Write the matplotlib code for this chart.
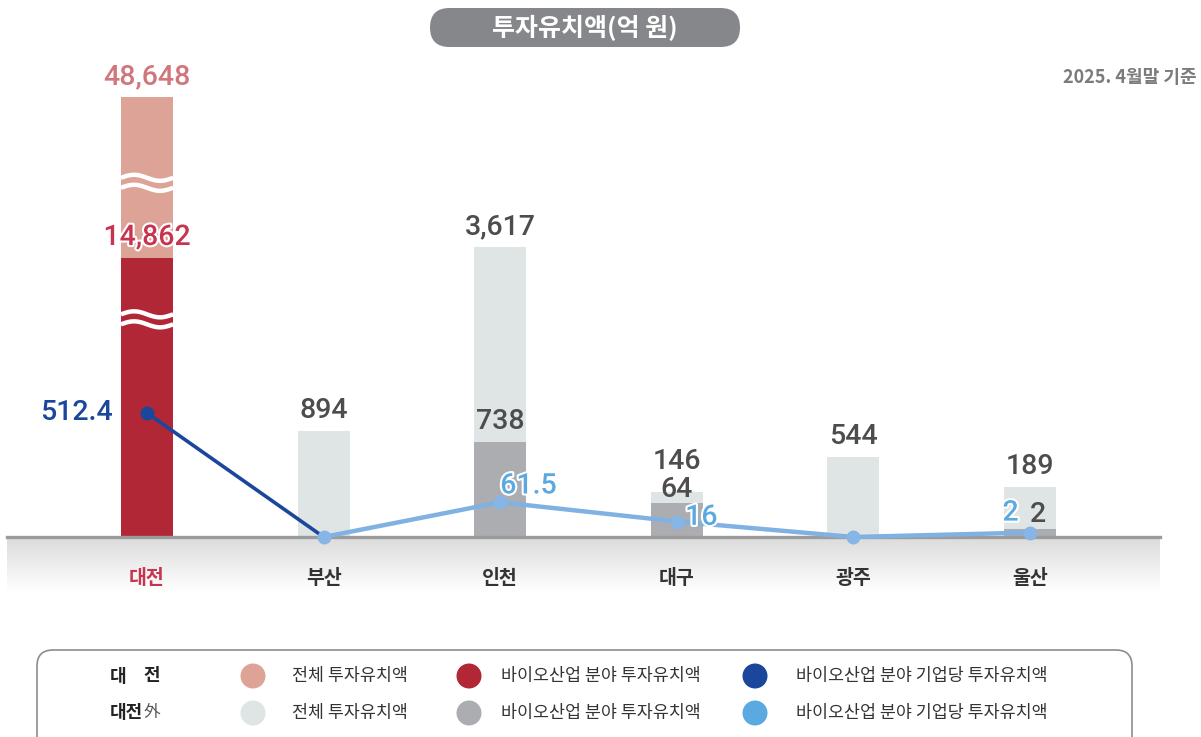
import numpy as np
import matplotlib.pyplot as plt
from matplotlib.patches import FancyBboxPatch, Circle
from matplotlib.colors import LinearSegmentedColormap
from matplotlib.transforms import blended_transform_factory
from matplotlib import patheffects as pe

plt.rcParams['font.family'] = ['Noto Sans CJK KR', 'DejaVu Sans']

# data (억 원)
regions = ['대전', '부산', '인천', '대구', '광주', '울산']
total_inv = [48648, 894, 3617, 146, 544, 189]
bio_inv = [14862, 0, 738, 64, 0, 2]
per_firm = [512.4, 0, 61.5, 16, 0, 2]
legend_texts = ['전체 투자유치액', '바이오산업 분야 투자유치액', '바이오산업 분야 기업당 투자유치액']

# colours
dj_total, dj_bio, dj_line = '#dda397', '#b22735', '#1a479c'
ot_total, ot_bio, ot_line = '#dfe4e4', '#abadb1', '#5aa9e0'
line_col = '#80b1e3'
num_col = '#4d4d4d'
num_font = dict(family=['Roboto', 'DejaVu Sans'], fontweight='medium', fontsize=20.5)

W, H = 1201, 737
fig = plt.figure(figsize=(W / 100, H / 100), dpi=100)

# background layer in pixel coords (title, note, legend)
bg = fig.add_axes([0, 0, 1, 1])
bg.set_xlim(0, W)
bg.set_ylim(H, 0)
bg.axis('off')

bg.add_patch(FancyBboxPatch((430, 8), 310, 39, boxstyle='round,pad=0,rounding_size=19.5',
                            fc='#86878b', ec='none'))
bg.text(585, 28, '투자유치액(억 원)', ha='center', va='center', color='white',
        fontsize=18, fontweight='bold')
bg.text(1197, 77, '2025. 4월말 기준', ha='right', va='center', color='#7b7b7b',
        fontsize=13, fontweight='bold')

bg.add_patch(FancyBboxPatch((37, 650), 1095, 120, boxstyle='round,pad=0,rounding_size=16',
                            fc='white', ec='#8c8c8c', lw=1.2))
rows = [676, 713]
bg.text(110, rows[0], '대', ha='left', va='center', fontsize=13, fontweight='bold', color='#222222')
bg.text(160, rows[0], '전', ha='right', va='center', fontsize=13, fontweight='bold', color='#222222')
t_dj = bg.text(110, rows[1], '대전', ha='left', va='center', fontsize=13, fontweight='bold', color='#222222')
bg.annotate('外', xy=(1, 0.5), xycoords=t_dj, ha='left', va='center', fontsize=12, color='#555555')
for row, cols in zip(rows, [(dj_total, dj_bio, dj_line), (ot_total, ot_bio, ot_line)]):
    for cx, tx, c, t in zip([253, 469, 755], [292, 501, 796], cols, legend_texts):
        bg.add_patch(Circle((cx, row), 12.5, color=c, ec='none'))
        bg.text(tx, row, t, ha='left', va='center', fontsize=12.5, color='#333333')

# grey band under the baseline
ag = fig.add_axes([7 / W, (H - 592) / H, 1153 / W, 54 / H])
grad = np.linspace(0, 1, 100)[:, None]
ag.imshow(grad, aspect='auto', extent=(0, 1, 0, 1),
          cmap=LinearSegmentedColormap.from_list('band', ['#dcdcdc', '#ffffff']))
ag.axis('off')

rect = [7 / W, 200 / H, 1153 / W, 477 / H]
x = np.arange(len(regions))
xlim = (-0.793, 5.736)
bw = 0.295


# compressed scales (values are not drawn proportionally in the original)
def bar_fwd(v):
    v = np.asarray(v, float)
    return 0.0639 * v + 7.194 * np.sign(v) * np.log1p(np.abs(v))


grid = np.concatenate([-np.geomspace(1e7, 1e-6, 3000), [0], np.geomspace(1e-6, 1e7, 3000)])


def bar_inv(y):
    return np.interp(y, bar_fwd(grid), grid)


def power_scale(p):
    def fwd(v):
        v = np.asarray(v, float)
        return np.sign(v) * np.abs(v) ** p

    def inv(y):
        y = np.asarray(y, float)
        return np.sign(y) * np.abs(y) ** (1 / p)
    return fwd, inv


# other regions
ax = fig.add_axes(rect)
ax.set_yscale('function', functions=(bar_fwd, bar_inv))
ax.set_xlim(*xlim)
ax.set_ylim(0, bar_inv(477))
ax.patch.set_visible(False)
for s in ax.spines.values():
    s.set_visible(False)
ax.set_yticks([])
ax.bar(x[1:], total_inv[1:], width=bw, color=ot_total)
ax.bar(x[1:], bio_inv[1:], width=bw, color=ot_bio)
ax.set_xticks(x, regions)
ax.tick_params(axis='x', length=0, pad=23, labelsize=14)
for i, lbl in enumerate(ax.get_xticklabels()):
    lbl.set_fontweight('bold')
    lbl.set_color('#c8344f' if i == 0 else '#333333')

tot_off = [None, 5, 5, 12, 5, 5]
for i in range(1, len(regions)):
    ax.annotate(f'{total_inv[i]:,}', (x[i], total_inv[i]), xytext=(0, tot_off[i]),
                textcoords='offset points', ha='center', va='bottom', color=num_col, **num_font)
bio_off = [None, None, (0, 5), (0, 0), None, (6, 1)]
for i in range(1, len(regions)):
    if bio_inv[i] > 0:
        ax.annotate(f'{bio_inv[i]:,}', (x[i], bio_inv[i]), xytext=bio_off[i],
                    textcoords='offset points', ha='center', va='bottom', color=num_col, **num_font)

# Daejeon (broken bar, own scale)
ax_dj = fig.add_axes(rect, sharex=ax)
dj_fwd, dj_inv = power_scale(0.384)
ax_dj.set_yscale('function', functions=(dj_fwd, dj_inv))
dj_top = total_inv[0] * (477 / 440) ** (1 / 0.384)
ax_dj.set_ylim(0, dj_top)
ax_dj.axis('off')
ax_dj.bar(x[0], total_inv[0], width=bw, color=dj_total)
ax_dj.bar(x[0], bio_inv[0], width=bw, color=dj_bio)
trans = blended_transform_factory(ax_dj.transData, ax_dj.transAxes)
xs = np.linspace(x[0] - bw / 2, x[0] + bw / 2, 80)
for v, frac in [(total_inv[0], 0.805), (bio_inv[0], 0.78)]:
    yc = frac * dj_fwd(v) / dj_fwd(dj_top)
    for d in (-5, 5):
        ys = yc + (d + 3 * np.sin(2 * np.pi * (xs - xs[0]) / bw)) / 477
        ax_dj.plot(xs, ys, color='white', lw=3.2, transform=trans, solid_capstyle='butt')
ax_dj.annotate(f'{total_inv[0]:,}', (x[0], total_inv[0]), xytext=(0, 5), textcoords='offset points',
               ha='center', va='bottom', color='#d0767d', **num_font)
ax_dj.annotate(f'{bio_inv[0]:,}', (x[0], bio_inv[0]), xytext=(0, 5), textcoords='offset points',
               ha='center', va='bottom', color='#c8344f', **num_font,
               path_effects=[pe.withStroke(linewidth=3, foreground='white')])

# per-firm line
ax_ln = fig.add_axes(rect, sharex=ax)
ln_fwd, ln_inv = power_scale(0.6)
ax_ln.set_yscale('function', functions=(ln_fwd, ln_inv))
ax_ln.set_ylim(0, per_firm[0] * (477 / 124) ** (1 / 0.6))
ax_ln.axis('off')
ax_ln.axhline(0, color='#9b9b9b', lw=2.4, zorder=1, clip_on=False)
ax_ln.plot(x[:2], per_firm[:2], color=dj_line, lw=2.6, zorder=3, clip_on=False)
ax_ln.plot(x[1:], per_firm[1:], color=line_col, lw=3.2, marker='o', ms=9,
           mfc='#86b5e6', mec='#86b5e6', zorder=4, clip_on=False)
ax_ln.plot(x[0], per_firm[0], 'o', color=dj_line, ms=9, zorder=5)
ax_ln.annotate(f'{per_firm[0]:g}', (x[0], per_firm[0]), xytext=(-25, 0), textcoords='offset points',
               ha='right', va='center', color=dj_line, **num_font)
ln_off = [None, None, (0, 2, 'left', 'bottom'), (6, 3, 'left', 'center'), None, (-14, 14, 'center', 'center')]
for i in range(1, len(regions)):
    if ln_off[i] is not None:
        dx, dy, ha, va = ln_off[i]
        ax_ln.annotate(f'{per_firm[i]:g}', (x[i], per_firm[i]), xytext=(dx, dy),
                       textcoords='offset points', ha=ha, va=va, color=ot_line, zorder=6,
                       path_effects=[pe.withStroke(linewidth=3, foreground='white')], **num_font)

fig.savefig('out.png', dpi=100)
